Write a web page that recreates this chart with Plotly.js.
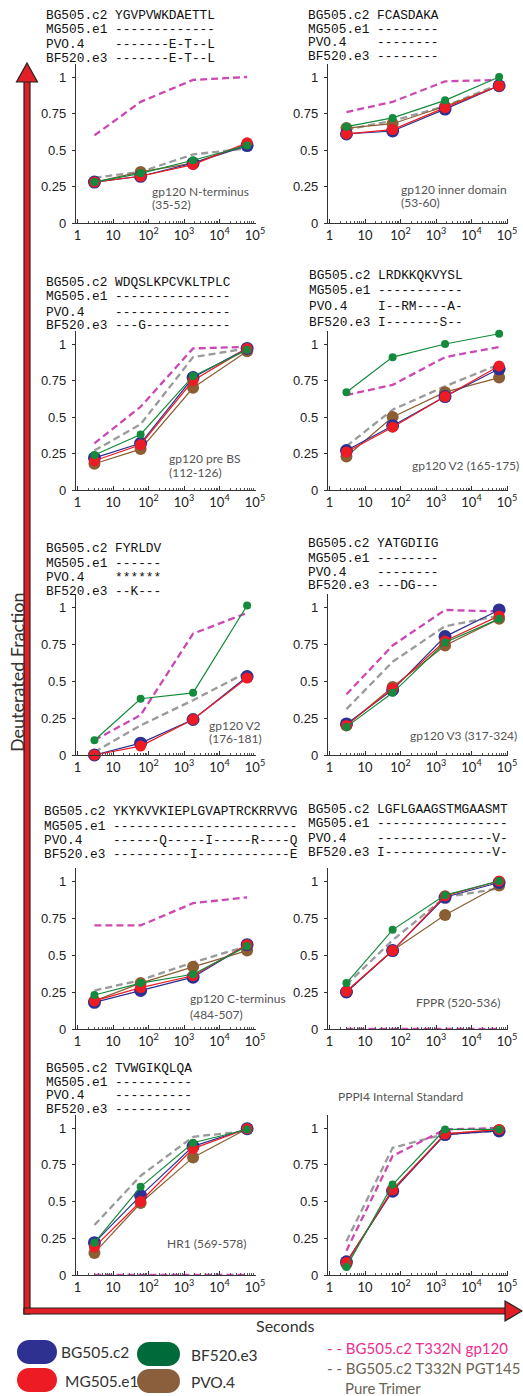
<!DOCTYPE html>
<html><head><meta charset="utf-8">
<script src="https://cdn.plot.ly/plotly-3.0.1.min.js"></script>
<style>html,body{margin:0;padding:0;background:#fff;} #chart{width:523px;height:1396px;}</style>
</head><body><div id="chart"></div>
<script>
// ---------------- DATA ----------------
const times = [3, 60, 1800, 60000];
const strainNames = ["BG505.c2", "MG505.e1", "PVO.4", "BF520.e3"];
const seqBG505 = ["YGVPVWKDAETTL","FCASDAKA","WDQSLKPCVKLTPLC","LRDKKQKVYSL","FYRLDV","YATGDIIG","YKYKVVKIEPLGVAPTRCKRRVVG","LGFLGAAGSTMGAASMT","TVWGIKQLQA",null];
const seqMG505 = ["-------------","--------","---------------","-----------","------","--------","------------------------","-----------------","----------",null];
const seqPVO4  = ["-------E-T--L","--------","---------------","I--RM----A-","******","--------","------Q-----I-----R----Q","---------------V-","----------",null];
const seqBF520 = ["-------E-T--L","--------","---G-----------","I-------S--","--K---","---DG---","----------I------------E","I--------------V-","----------",null];
const labelLine1 = ["gp120 N-terminus","gp120 inner domain","gp120 pre BS","gp120 V2 (165-175)","gp120 V2","gp120 V3 (317-324)","gp120 C-terminus","FPPR (520-536)","HR1 (569-578)","PPPI4 Internal Standard"];
const labelLine2 = ["(35-52)","(53-60)","(112-126)","","(176-181)","","(484-507)","","",""];
const xTickVals = [1, 10, 100, 1000, 10000, 100000];
const xTickText = ["1", "10", "10<sup>2</sup>", "10<sup>3</sup>", "10<sup>4</sup>", "10<sup>5</sup>"];
const yTickVals = [0, 0.25, 0.5, 0.75, 1];
const yTickText = ["0", "0.25", "0.5", "0.75", "1"];

const valBG505 = [
 [0.28,0.32,0.41,0.53],
 [0.61,0.63,0.78,0.94],
 [0.22,0.32,0.77,0.97],
 [0.27,0.44,0.64,0.83],
 [0.00,0.08,0.24,0.53],
 [0.21,0.44,0.80,0.98],
 [0.18,0.26,0.35,0.57],
 [0.25,0.53,0.89,0.99],
 [0.22,0.54,0.875,0.995],
 [0.09,0.57,0.955,0.98]];
const valMG505 = [
 [0.28,0.32,0.40,0.55],
 [0.61,0.64,0.79,0.94],
 [0.20,0.31,0.75,0.97],
 [0.26,0.43,0.64,0.85],
 [0.00,0.06,0.24,0.52],
 [0.20,0.45,0.77,0.94],
 [0.19,0.28,0.36,0.57],
 [0.255,0.53,0.90,1.00],
 [0.19,0.50,0.86,0.995],
 [0.085,0.58,0.96,0.99]];
const valPVO4 = [
 [0.28,0.35,0.41,0.54],
 [0.65,0.68,0.80,0.94],
 [0.18,0.28,0.70,0.95],
 [0.23,0.50,0.67,0.77],
 [null,null,null,null],
 [0.20,0.46,0.74,0.92],
 [0.19,0.31,0.42,0.53],
 [0.25,0.53,0.77,0.97],
 [0.15,0.49,0.80,0.995],
 [0.075,0.58,0.955,0.985]];
const valBF520 = [
 [0.28,0.34,0.43,0.53],
 [0.66,0.72,0.84,1.00],
 [0.24,0.38,0.78,0.96],
 [0.67,0.91,1.00,1.07],
 [0.10,0.38,0.42,1.01],
 [0.19,0.42,0.76,0.92],
 [0.23,0.31,0.37,0.56],
 [0.31,0.67,0.905,1.00],
 [0.22,0.60,0.90,0.99],
 [0.055,0.615,0.99,0.99]];
const valGp120 = [
 [0.60,0.83,0.98,1.00],
 [0.76,0.83,0.97,0.98],
 [0.32,0.57,0.97,0.98],
 [0.65,0.72,0.91,0.98],
 [0.10,0.27,0.82,0.96],
 [0.41,0.74,0.98,0.97],
 [0.70,0.70,0.85,0.89],
 [0,0,0,0],
 [0,0,0,0],
 [0.165,0.81,0.99,1.00]];
const valTrimer = [
 [0.31,0.35,0.47,0.51],
 [0.64,0.70,0.80,0.95],
 [0.27,0.45,0.91,0.97],
 [0.30,0.55,0.71,0.86],
 [0.02,0.20,0.37,0.56],
 [0.31,0.63,0.87,0.94],
 [0.26,0.33,0.45,0.56],
 [0.30,0.60,0.89,0.95],
 [0.34,0.675,0.94,0.98],
 [0.23,0.865,0.96,0.98]];

// ---------------- LAYOUT GEOMETRY (pixels) ----------------
const W = 523, H = 1396;
const px = x => x / W, py = y => 1 - y / H;
const cols = [[76, 256], [328, 508]];
const rows = [[223, 77], [490, 344], [755, 607], [1029, 881], [1275, 1128]];
const YTOP = 1.09;
const seqPos = [
  [44, [15, 30, 44, 58]], [306, [15, 29, 43, 57]],
  [44, [282, 297, 312, 326]], [307, [275, 291, 307, 322]],
  [44, [548, 563, 577, 591]], [306, [543, 558, 572, 586]],
  [42, [811, 826, 840, 854]], [306, [809, 823, 838, 853]],
  [44, [1068, 1082, 1095, 1109]], null];
const labelPos = [[150,192,205],[399,189,202],[167,459,472],[410,465],[207,725,738],[408,735],[188,998,1014],[414,1003],[165,1243],[336,1096]];

const C = {blue:'#2e3192', red:'#ed1c24', green:'#138a3c', brown:'#8b5e34', pink:'#cc48b2', gray:'#9a9a9a'};
const minorVals = [];
for (let d = 0; d < 5; d++) for (let k = 2; k <= 9; k++) minorVals.push(k * Math.pow(10, d));

const traces = [];
const layout = {
  width: W, height: H, margin: {l:0, r:0, t:0, b:0},
  paper_bgcolor: '#fff', plot_bgcolor: 'rgba(0,0,0,0)',
  showlegend: false, shapes: [], annotations: []
};

for (let i = 0; i < 10; i++) {
  const r = Math.floor(i / 2), c = i % 2;
  const [x0, x1] = cols[c];
  const [y0, y1] = rows[r];
  const top = y0 - YTOP * (y0 - y1);
  const sfx = i === 0 ? '' : String(i + 1);
  const xa = 'x' + sfx, ya = 'y' + sfx;
  const lo = -1.5 / ((x1 - x0 - 2.5) / 5), hi = 5 + 1 / ((x1 - x0 - 2.5) / 5);
  layout['xaxis' + sfx] = {
    type: 'log', range: [lo, hi], domain: [px(x0), px(x1)], anchor: ya,
    showline: true, linecolor: '#333', linewidth: 1.2, showgrid: false, zeroline: false,
    tickmode: 'array', tickvals: xTickVals, ticktext: xTickText,
    ticks: 'inside', ticklen: 4, tickcolor: '#333', tickwidth: 1,
    tickfont: {family: 'Lato, sans-serif', size: 13, color: '#222'},
    minor: {tickmode: 'array', tickvals: minorVals, ticks: 'inside', ticklen: 2.5, tickcolor: '#555', tickwidth: 1, showgrid: false},
    fixedrange: true
  };
  layout['yaxis' + sfx] = {
    range: [0, YTOP], domain: [py(y0), py(top)], anchor: xa,
    showline: true, linecolor: '#333', linewidth: 1.2, showgrid: false, zeroline: false,
    tickmode: 'array', tickvals: yTickVals, ticktext: yTickText,
    ticks: 'outside', ticklen: 3, tickcolor: '#333', tickwidth: 1, ticklabelstandoff: 3,
    tickfont: {family: '"Liberation Sans", Arial, sans-serif', size: 13, color: '#222'},
    fixedrange: true
  };
  const dashed = (vals, color) => ({
    x: times, y: vals, xaxis: xa, yaxis: ya, mode: 'lines', cliponaxis: false,
    line: {color: color, width: 2.3, dash: '7px,4px'}, hoverinfo: 'skip'
  });
  const solid = (vals, color, size) => ({
    x: times, y: vals, xaxis: xa, yaxis: ya, mode: 'lines+markers', cliponaxis: false,
    line: {color: color, width: 1.2}, marker: {color: color, size: size}, hoverinfo: 'skip'
  });
  traces.push(dashed(valTrimer[i], C.gray));
  traces.push(dashed(valGp120[i], C.pink));
  traces.push(solid(valPVO4[i], C.brown, 12));
  traces.push(solid(valBG505[i], C.blue, 13));
  traces.push(solid(valMG505[i], C.red, 11));
  traces.push(solid(valBF520[i], C.green, 8));

  // sequence alignment text
  if (seqBG505[i]) {
    const seqs = [seqBG505[i], seqMG505[i], seqPVO4[i], seqBF520[i]];
    const [sx, sys] = seqPos[i];
    for (let k = 0; k < 4; k++) {
      const name = (strainNames[k] + '         ').slice(0, 9).replace(/ /g, '\u00A0');
      layout.annotations.push({
        xref: 'paper', yref: 'paper', x: px(sx), y: py(sys[k]), xanchor: 'left', yanchor: 'middle',
        text: name + seqs[k], showarrow: false,
        font: {family: '"Liberation Mono", "Courier New", monospace', size: 12.8, color: '#111'}
      });
    }
  }
  // region label
  const lp = labelPos[i];
  layout.annotations.push({xref:'paper', yref:'paper', x: px(lp[0]), y: py(lp[1]), xanchor:'left', yanchor:'middle',
    text: labelLine1[i], showarrow:false, font:{family:'Lato, sans-serif', size:12, color:'#555'}});
  if (labelLine2[i]) layout.annotations.push({xref:'paper', yref:'paper', x: px(lp[0]), y: py(lp[2]), xanchor:'left', yanchor:'middle',
    text: labelLine2[i], showarrow:false, font:{family:'Lato, sans-serif', size:12, color:'#555'}});
}

// ---------------- decorations ----------------
const P = (x, y) => px(x) + ',' + py(y);
const arrowRed = '#e21f26', arrowLine = '#222';
layout.shapes.push({type:'rect', xref:'paper', yref:'paper', x0:px(24), x1:px(30), y0:py(80), y1:py(1314), fillcolor:arrowRed, line:{color:arrowLine, width:1.2}, layer:'above'});
layout.shapes.push({type:'rect', xref:'paper', yref:'paper', x0:px(24), x1:px(508), y0:py(1308), y1:py(1314), fillcolor:arrowRed, line:{color:arrowLine, width:1.2}, layer:'above'});
layout.shapes.push({type:'path', xref:'paper', yref:'paper', path:'M' + P(27,63) + ' L' + P(37.5,82) + ' L' + P(16.5,82) + ' Z', fillcolor:arrowRed, line:{color:arrowLine, width:1.2}, layer:'above'});
layout.shapes.push({type:'path', xref:'paper', yref:'paper', path:'M' + P(522,1311) + ' L' + P(505,1301) + ' L' + P(505,1321) + ' Z', fillcolor:arrowRed, line:{color:arrowLine, width:1.2}, layer:'above'});

function pill(x0, x1, y0, y1, color) {
  const r = (y1 - y0) / 2, ym = (y0 + y1) / 2, k = 0.5523 * r;
  const d = 'M' + P(x0 + r, y0) + ' L' + P(x1 - r, y0) +
    ' C' + P(x1 - r + k, y0) + ' ' + P(x1, ym - k) + ' ' + P(x1, ym) +
    ' C' + P(x1, ym + k) + ' ' + P(x1 - r + k, y1) + ' ' + P(x1 - r, y1) +
    ' L' + P(x0 + r, y1) +
    ' C' + P(x0 + r - k, y1) + ' ' + P(x0, ym + k) + ' ' + P(x0, ym) +
    ' C' + P(x0, ym - k) + ' ' + P(x0 + r - k, y0) + ' ' + P(x0 + r, y0) + ' Z';
  layout.shapes.push({type:'path', xref:'paper', yref:'paper', path:d, fillcolor:color, line:{width:0}});
}
pill(17, 57, 1340, 1364, '#2e3192');
pill(17, 57, 1368, 1392, '#ed1c24');
pill(137, 180, 1342, 1366, '#006b3a');
pill(137, 180, 1369, 1393, '#8b5e3c');

const txt = (x, y, t, size, color, xanchor, extra) => Object.assign({
  xref:'paper', yref:'paper', x:px(x), y:py(y), xanchor:xanchor || 'left', yanchor:'middle',
  text:t, showarrow:false, font:{family:'Lato, sans-serif', size:size, color:color}}, extra || {});
layout.annotations.push(txt(59, 1352, 'BG505.c2', 15.5, '#333'));
layout.annotations.push(txt(63, 1381, 'MG505.e1', 15.5, '#333'));
layout.annotations.push(txt(189, 1355, 'BF520.e3', 15.5, '#333'));
layout.annotations.push(txt(189, 1382, 'PVO.4', 15.5, '#333'));
layout.annotations.push(txt(325, 1348, '- - BG505.c2 T332N gp120', 15, '#ec2f8e'));
layout.annotations.push(txt(325, 1368, '- - BG505.c2 T332N PGT145', 15, '#6b6454'));
layout.annotations.push(txt(343, 1388, 'Pure Trimer', 15, '#6b6454'));
layout.annotations.push(txt(285, 1325, 'Seconds', 16, '#333', 'center'));
layout.annotations.push(txt(17, 672, 'Deuterated Fraction', 18, '#333', 'center', {textangle:-90}));

Plotly.newPlot('chart', traces, layout, {staticPlot: true, displayModeBar: false});
</script>
</body></html>
